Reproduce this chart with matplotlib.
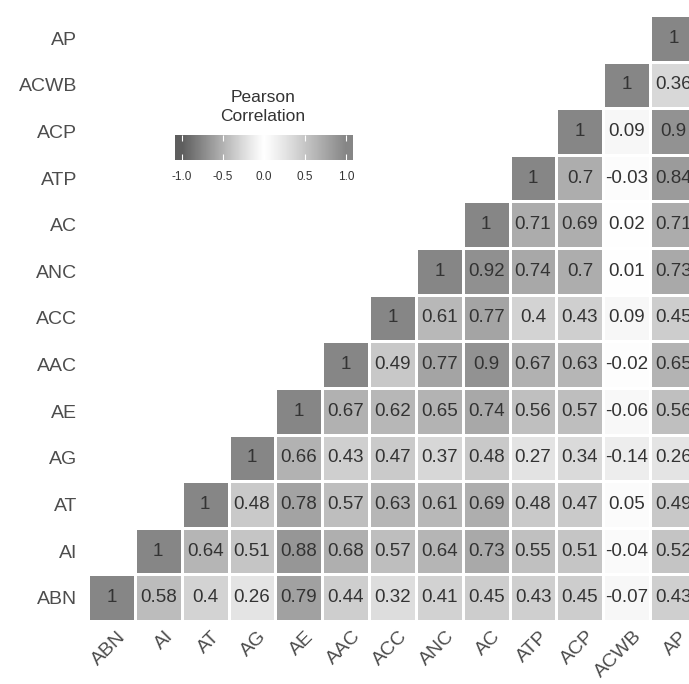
import numpy as np
import matplotlib
matplotlib.use("Agg")
import matplotlib.pyplot as plt
import matplotlib.transforms as mtransforms
from matplotlib.colors import LinearSegmentedColormap

plt.rcParams["font.family"] = ["Liberation Sans", "DejaVu Sans"]

variables = ["ABN", "AI", "AT", "AG", "AE", "AAC", "ACC", "ANC", "AC", "ATP", "ACP", "ACWB", "AP"]

# each row: correlations from the diagonal to the right (lower triangle as drawn)
r_abn = [1, 0.58, 0.40, 0.26, 0.79, 0.44, 0.32, 0.41, 0.45, 0.43, 0.45, -0.07, 0.43]
r_ai = [1, 0.64, 0.51, 0.88, 0.68, 0.57, 0.64, 0.73, 0.55, 0.51, -0.04, 0.52]
r_at = [1, 0.48, 0.78, 0.57, 0.63, 0.61, 0.69, 0.48, 0.47, 0.05, 0.49]
r_ag = [1, 0.66, 0.43, 0.47, 0.37, 0.48, 0.27, 0.34, -0.14, 0.26]
r_ae = [1, 0.67, 0.62, 0.65, 0.74, 0.56, 0.57, -0.06, 0.56]
r_aac = [1, 0.49, 0.77, 0.90, 0.67, 0.63, -0.02, 0.65]
r_acc = [1, 0.61, 0.77, 0.40, 0.43, 0.09, 0.45]
r_anc = [1, 0.92, 0.74, 0.70, 0.01, 0.73]
r_ac = [1, 0.71, 0.69, 0.02, 0.71]
r_atp = [1, 0.70, -0.03, 0.84]
r_acp = [1, 0.09, 0.90]
r_acwb = [1, 0.36]
r_ap = [1]

rows = [r_abn, r_ai, r_at, r_ag, r_ae, r_aac, r_acc, r_anc, r_ac, r_atp, r_acp, r_acwb, r_ap]

n = len(variables)
corr = np.full((n, n), np.nan)
for i, row in enumerate(rows):
    corr[i, i:] = row
corr_masked = np.ma.masked_invalid(corr)


def lab_gray(L):
    """L* -> sRGB 灰度 (0-1)"""
    y = ((L + 16) / 116) ** 3
    if y <= 0.0031308:
        return 12.92 * y
    return 1.055 * y ** (1 / 2.4) - 0.055


# gradient2 (blue-white-red) seen in grayscale
stops = np.linspace(-1, 1, 81)
grays = []
for s in stops:
    if s < 0:
        L = 100 - (100 - 40) * abs(s) ** 1.15
    else:
        L = 100 - (100 - 56) * s ** 1.15
    g = lab_gray(L)
    grays.append(((s + 1) / 2, (g, g, g)))
cmap = LinearSegmentedColormap.from_list("gray_div", grays)

fig = plt.figure(figsize=(6.89, 6.84), dpi=100)
W, H = 689, 684
x0, x1, y0, y1 = 88, 697, 15, 621
ax = fig.add_axes([x0 / W, 1 - y1 / H, (x1 - x0) / W, (y1 - y0) / H])

ax.pcolormesh(np.arange(n + 1) - 0.5, np.arange(n + 1) - 0.5, corr_masked,
              cmap=cmap, vmin=-1, vmax=1, edgecolors="white", linewidth=0.9)

for i in range(n):
    for j in range(i, n):
        v = round(corr[i, j], 2)
        ax.text(j, i, "{:g}".format(v), ha="center", va="center",
                fontsize=13.5, color="#333333")

ax.set_xlim(-0.5, n - 0.5)
ax.set_ylim(-0.5, n - 0.5)
ax.set_xticks(np.arange(n))
ax.set_yticks(np.arange(n))
ax.set_xticklabels(variables, rotation=45, ha="right", va="top",
                   rotation_mode="anchor", fontsize=14, color="#4d4d4d")
ax.set_yticklabels(variables, fontsize=14, color="#4d4d4d")
ax.tick_params(axis="y", length=0, pad=8)
ax.tick_params(axis="x", length=0, pad=5)
shift = mtransforms.ScaledTranslation(6 / 100, 0, fig.dpi_scale_trans)
for lab in ax.get_xticklabels():
    lab.set_transform(lab.get_transform() + shift)
for sp in ax.spines.values():
    sp.set_visible(False)

# legend colour bar
cax = fig.add_axes([175 / W, 1 - 160 / H, 178 / W, 25 / H])
grad = np.linspace(-1.08, 1.08, 300).reshape(1, -1)
cax.imshow(grad, cmap=cmap, vmin=-1, vmax=1, aspect="auto",
           extent=(-1.08, 1.08, 0, 1))
cax.set_xlim(-1.08, 1.08)
cax.set_ylim(0, 1)
cax.set_yticks([])
cax.set_xticks([-1, -0.5, 0, 0.5, 1])
cax.set_xticklabels(["-1.0", "-0.5", "0.0", "0.5", "1.0"], fontsize=8.5, color="#333333")
cax.tick_params(axis="x", direction="in", length=4, color="white", width=0.8,
                top=True, pad=8)
for sp in cax.spines.values():
    sp.set_visible(False)
fig.text(263 / W, 1 - 107 / H, "Pearson\nCorrelation", ha="center", va="center",
         fontsize=12.5, color="#333333", linespacing=1.3)

fig.savefig("out.png", dpi=100)
